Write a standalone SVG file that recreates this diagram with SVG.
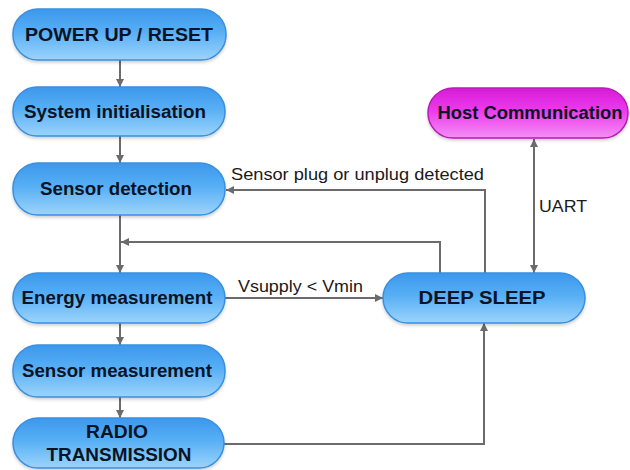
<svg xmlns="http://www.w3.org/2000/svg" width="630" height="470" viewBox="0 0 630 470">
  <defs>
    <linearGradient id="gBlue" x1="0" y1="0" x2="0" y2="1">
      <stop offset="0" stop-color="#3c98ec"/>
      <stop offset="0.45" stop-color="#57aff5"/>
      <stop offset="1" stop-color="#9cd4fb"/>
    </linearGradient>
    <linearGradient id="gPink" x1="0" y1="0" x2="0" y2="1">
      <stop offset="0" stop-color="#d71cd7"/>
      <stop offset="0.45" stop-color="#ec3aec"/>
      <stop offset="1" stop-color="#f58ef5"/>
    </linearGradient>
    <filter id="sh" x="-10%" y="-20%" width="120%" height="150%">
      <feDropShadow dx="0" dy="2" stdDeviation="1.5" flood-color="#000" flood-opacity="0.18"/>
    </filter>
    <marker id="ah" viewBox="0 0 10 10" refX="10" refY="5" markerWidth="8" markerHeight="8" markerUnits="userSpaceOnUse" orient="auto-start-reverse">
      <path d="M0,0 L10,5 L0,10 z" fill="#6b6b6b"/>
    </marker>
  </defs>
  <style>
    .blue { fill: url(#gBlue); stroke: #3a8ee0; stroke-width: 1.5; filter: url(#sh); }
    .pink { fill: url(#gPink); stroke: #b81ab8; stroke-width: 1.5; filter: url(#sh); }
    .nt { font-family: "Liberation Sans", Arial, sans-serif; font-weight: bold; font-size: 18px; fill: #0b1426; text-anchor: middle; }
    .lbl { font-family: "Liberation Sans", Arial, sans-serif; font-size: 16.5px; fill: #1a1a1a; }
    .c { fill: none; stroke: #6b6b6b; stroke-width: 2; }
  </style>
  <rect width="630" height="470" fill="#ffffff"/>

  <g id="connectors">
    <line class="c" x1="120" y1="60" x2="120" y2="87" marker-end="url(#ah)"/>
    <line class="c" x1="120" y1="136" x2="120" y2="163" marker-end="url(#ah)"/>
    <line class="c" x1="120" y1="215" x2="120" y2="273" marker-end="url(#ah)"/>
    <line class="c" x1="120" y1="323" x2="120" y2="345" marker-end="url(#ah)"/>
    <line class="c" x1="120" y1="397" x2="120" y2="418" marker-end="url(#ah)"/>
    <polyline class="c" points="440,273 440,242 121,242" marker-end="url(#ah)"/>
    <polyline class="c" points="485,273 485,190 226,190" marker-end="url(#ah)"/>
    <line class="c" x1="225" y1="298" x2="383" y2="298" marker-end="url(#ah)"/>
    <polyline class="c" points="224,444 484,444 484,323" marker-end="url(#ah)"/>
    <line class="c" x1="534" y1="139" x2="534" y2="273" marker-start="url(#ah)" marker-end="url(#ah)"/>
    <text class="lbl" x="231" y="180" textLength="253" lengthAdjust="spacingAndGlyphs">Sensor plug or unplug detected</text>
    <text class="lbl" x="238" y="292" textLength="125" lengthAdjust="spacingAndGlyphs">Vsupply &lt; Vmin</text>
    <text class="lbl" x="539" y="212" textLength="48" lengthAdjust="spacingAndGlyphs">UART</text>
  </g>

  <g id="power-up">
    <rect class="blue" x="13" y="9" width="213" height="51" rx="25"/>
    <text class="nt" x="119" y="41" textLength="188" lengthAdjust="spacingAndGlyphs">POWER UP / RESET</text>
  </g>
  <g id="system-init">
    <rect class="blue" x="13" y="87" width="212" height="49" rx="24"/>
    <text class="nt" x="115" y="118" textLength="182" lengthAdjust="spacingAndGlyphs">System initialisation</text>
  </g>
  <g id="sensor-detection">
    <rect class="blue" x="13" y="163" width="212" height="52" rx="25"/>
    <text class="nt" x="116" y="195" textLength="152" lengthAdjust="spacingAndGlyphs">Sensor detection</text>
  </g>
  <g id="energy-measurement">
    <rect class="blue" x="13" y="273" width="212" height="50" rx="25"/>
    <text class="nt" x="117" y="304" textLength="191" lengthAdjust="spacingAndGlyphs">Energy measurement</text>
  </g>
  <g id="sensor-measurement">
    <rect class="blue" x="13" y="345" width="212" height="52" rx="25"/>
    <text class="nt" x="117" y="377" textLength="190" lengthAdjust="spacingAndGlyphs">Sensor measurement</text>
  </g>
  <g id="radio-transmission">
    <rect class="blue" x="13" y="418" width="211" height="50" rx="25"/>
    <text class="nt" x="117" y="438" textLength="62" lengthAdjust="spacingAndGlyphs">RADIO</text>
    <text class="nt" x="119" y="461" textLength="145" lengthAdjust="spacingAndGlyphs">TRANSMISSION</text>
  </g>
  <g id="deep-sleep">
    <rect class="blue" x="383" y="273" width="202" height="50" rx="25"/>
    <text class="nt" x="482" y="304" textLength="127" lengthAdjust="spacingAndGlyphs">DEEP SLEEP</text>
  </g>
  <g id="host-communication">
    <rect class="pink" x="428" y="88" width="200" height="50" rx="25"/>
    <text class="nt" x="530" y="119" textLength="185" lengthAdjust="spacingAndGlyphs">Host Communication</text>
  </g>
</svg>
